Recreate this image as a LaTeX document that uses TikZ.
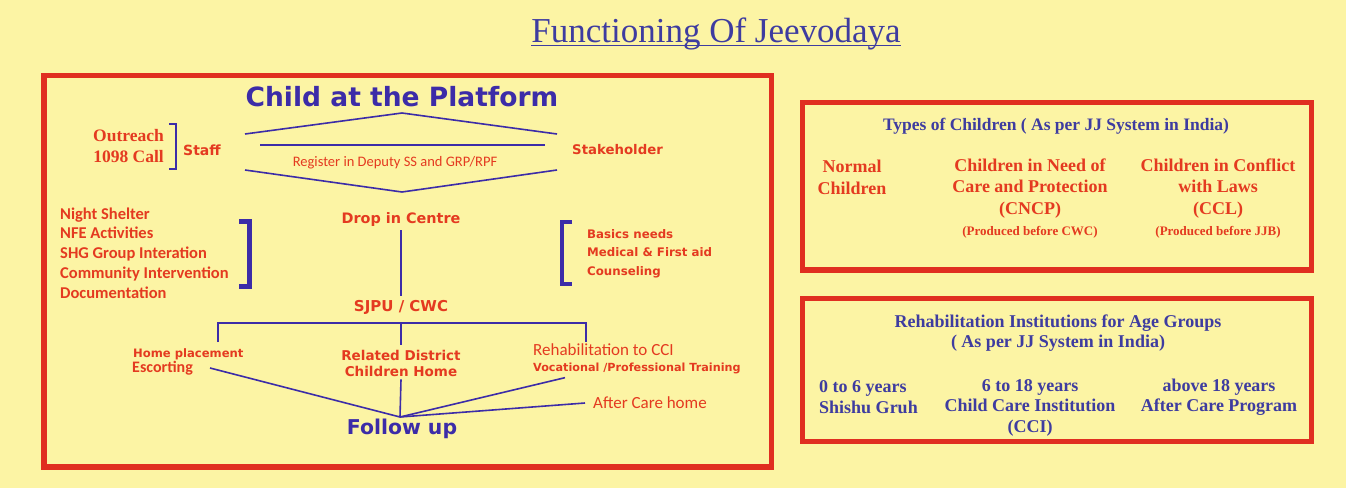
\documentclass[tikz,border=0pt]{standalone}
\usepackage{fontspec}
\newfontfamily\boldsans{DejaVu Sans}
\newfontfamily\calsans{Carlito}
\newfontfamily\serifface{Liberation Serif}
\definecolor{paper}{RGB}{252,244,164}
\definecolor{frame}{RGB}{224,46,32}
\definecolor{ink}{RGB}{60,44,168}
\definecolor{redtext}{RGB}{228,58,32}
\definecolor{serifblue}{RGB}{62,60,160}

\begin{document}
\begin{tikzpicture}[x=1pt,y=-1pt]
\tikzset{
  lbl/.style={inner sep=0pt,text=redtext},
  bsans/.style 2 args={lbl,font=\boldsans\bfseries\fontsize{#1}{#2}\selectfont},
  csans/.style 2 args={lbl,font=\calsans\fontsize{#1}{#2}\selectfont},
  cbold/.style 2 args={lbl,font=\calsans\bfseries\fontsize{#1}{#2}\selectfont},
  serif/.style 2 args={lbl,font=\serifface\bfseries\fontsize{#1}{#2}\selectfont},
  link/.style={draw=ink,line width=1.6pt},
  bracket/.style={draw=ink,line width=#1},
  panel/.style={draw=frame,line width=5.5pt}
}
\fill[paper] (0,0) rectangle (1346,488);
\useasboundingbox (0,0) rectangle (1346,488);

\node[lbl,text=serifblue,font=\serifface\fontsize{35}{38}\selectfont] (title) at (716,34) {Functioning Of Jeevodaya};
\draw[serifblue,line width=1.3pt] ([yshift=-3pt]title.base west) -- ([yshift=-3pt]title.base east);

\draw[panel] (44,75.5) rectangle (771.5,467);
\draw[panel] (802.5,102.5) rectangle (1311.5,270);
\draw[panel] (802.5,298.5) rectangle (1311.5,441.5);

% platform and registration
\node[bsans={26.5}{30},text=ink] (platform) at (402,97) {Child at the Platform};
\coordinate (roofL) at (245,134);
\coordinate (roofT) at (402,113);
\coordinate (roofR) at (557,134);
\coordinate (midL) at (260,145);
\coordinate (midR) at (545,145);
\coordinate (vL) at (245,170);
\coordinate (vB) at (402,192);
\coordinate (vR) at (557,170);
\draw[link] (roofL) -- (roofT) -- (roofR);
\draw[link] (midL) -- (midR);
\draw[link] (vL) -- (vB) -- (vR);
\node[csans={14.5}{17}] (register) at (395,163) {Register in Deputy SS and GRP/RPF};

\node[serif={17.5}{21},align=right,anchor=east] (outreach) at (164,146) {Outreach\\1098 Call};
\draw[bracket=2.5pt] (169,124) -- (176,124) -- (176,169) -- (169,169);
\node[bsans={14}{17},anchor=west] (staff) at (183,150) {Staff};
\node[bsans={13.3}{16},anchor=west] (stake) at (572,150) {Stakeholder};

% drop in centre
\node[bsans={14.4}{17}] (drop) at (401,220) {Drop in Centre};
\node[bsans={15}{17}] (sjpu) at (401,307) {SJPU / CWC};
\draw[link] ([yshift=-3pt]drop.south) -- ([yshift=4pt]sjpu.north);

\node[cbold={16.5}{19.75},align=left,anchor=west] (activities) at (60,253) {Night Shelter\\NFE Activities\\SHG Group Interation\\Community Intervention\\Documentation};
\draw[bracket=5pt] (239,221) -- (249,221) -- (249,286) -- (239,286);
\draw[bracket=4.5pt] (572,222) -- (562,222) -- (562,284) -- (572,284);
\node[bsans={11.8}{18.5},align=left,anchor=west] (basics) at (587,253.5) {Basics needs\\Medical \& First aid\\Counseling};

% outcomes
\node[bsans={11.6}{14},anchor=west] (homeplace) at (133,354) {Home placement};
\node[cbold={16}{18},anchor=west] (escort) at (132,368) {Escorting};
\node[bsans={13.5}{16},align=center] (related) at (401,363) {Related District\\Children Home};
\node[csans={17}{20},anchor=west] (rehab) at (533,350) {Rehabilitation to CCI};
\node[bsans={11.2}{14},anchor=west] (vocational) at (533,368) {Vocational /Professional Training};
\node[csans={17}{20},anchor=west] (aftercare) at (593,403) {After Care home};
\node[bsans={20.4}{24},text=ink] (follow) at (402,429) {Follow up};

\coordinate (barL) at (218,323);
\coordinate (barR) at (586,323);
\coordinate (dropL) at (218,342);
\coordinate (dropR) at (586,342);
\draw[link] (dropL) -- (barL) -- (barR) -- (dropR);
\draw[link] (related.north |- barL) -- ([yshift=5pt]related.north);

\coordinate (meet) at (400,417);
\draw[link] ([xshift=17pt]escort.east) -- (meet);
\draw[link] ([yshift=-3pt]related.south) -- (meet);
\draw[link] ([xshift=32pt,yshift=-4pt]vocational.south west) -- (meet);
\draw[link] ([xshift=-8pt]aftercare.west) -- (meet);

% types of children
\node[serif={17.5}{20},text=serifblue] (typestitle) at (1056,126) {Types of Children ( As per JJ System in India)};
\node[serif={18}{21.5},align=center] (normal) at (852,177.5) {Normal\\Children};
\node[serif={18}{21.5},align=center] (cncp) at (1030,188.5) {Children in Need of\\Care and Protection\\(CNCP)};
\node[serif={13}{15}] (cwcnote) at (1030,232) {(Produced before CWC)};
\node[serif={18}{21.5},align=center] (ccl) at (1218,188.5) {Children in Conflict\\with Laws\\(CCL)};
\node[serif={13}{15}] (jjbnote) at (1218,232) {(Produced before JJB)};

% age groups
\node[serif={18}{20},text=serifblue,align=center] (agetitle) at (1058,333) {Rehabilitation Institutions for Age Groups\\( As per JJ System in India)};
\node[serif={18}{20.5},text=serifblue,align=left,anchor=west] (shishu) at (819,397) {0 to 6 years\\Shishu Gruh};
\node[serif={18}{20.5},text=serifblue,align=center] (cci) at (1030,407.5) {6 to 18 years\\Child Care Institution\\(CCI)};
\node[serif={18}{20.5},text=serifblue,align=center] (above) at (1219,397) {above 18 years\\After Care Program};
\end{tikzpicture}
\end{document}
